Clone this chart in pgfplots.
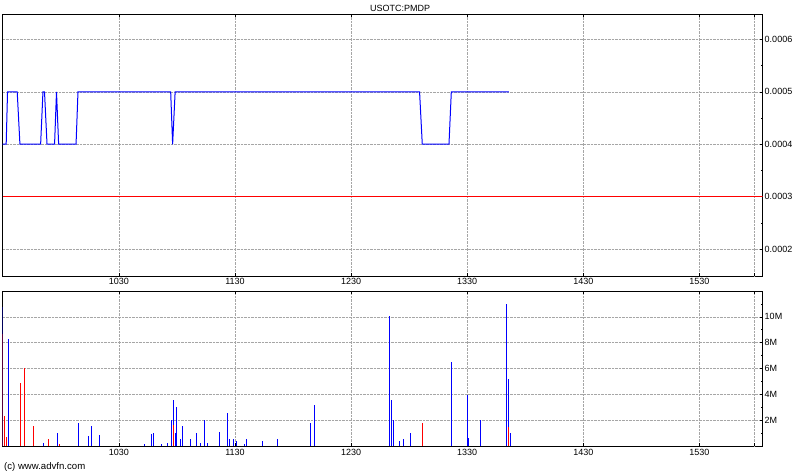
\documentclass[border=0pt]{standalone}
\usepackage{pgfplots}
\pgfplotsset{compat=1.18}
\usepackage{fontspec}
\setmainfont{Liberation Sans}
\begin{document}
\begin{tikzpicture}
\useasboundingbox (0pt,0pt) rectangle (800pt,-475pt);
\pgfplotsset{every axis/.append style={
  scale only axis, width=760pt, xmin=0, xmax=392.7,
  xtick={60,120,180,240,300,360},
  xticklabels={1030,1130,1230,1330,1430,1530},
  extra x ticks={388.3}, extra x tick labels={},
  extra x tick style={grid=major},
  grid=major,
  major grid style={densely dotted, black!35},
  axis line style={black, line width=0.9pt},
  tick label style={font=\fontsize{9}{10}\selectfont},
  yticklabel pos=right,
  ytick pos=right,
  yticklabel style={xshift=-1.5pt},
  xticklabel style={yshift=1pt},
  scaled y ticks=false,
  tick style={black, line width=0.6pt},
  major tick length=3pt, minor tick length=2pt,
}}
\begin{axis}[at={(2.7pt,-276pt)}, anchor=south west, height=261.7pt,
  ymin=0.0001485, ymax=0.000648,
  ytick={0.0002,0.0003,0.0004,0.0005,0.0006},
  yticklabels={0.0002,0.0003,0.0004,0.0005,0.0006},
  minor ytick={0.00025,0.00035,0.00045,0.00055},
]
\addplot[red, line width=1pt] coordinates {(0,0.0003)(392.7,0.0003)};
\addplot[blue, line width=1pt] coordinates {
(0,0.0004)(1.8,0.0004)(2.5,0.0005)(7.5,0.0005)(8.9,0.0004)(19.6,0.0004)(20.8,0.0005)(21.6,0.0005)(22.9,0.0004)(26.8,0.0004)(27.8,0.0005)(28.9,0.0004)(37.9,0.0004)(38.9,0.0005)(86.8,0.0005)(87.8,0.0004)(89.1,0.0005)(215.4,0.0005)(216.8,0.0004)(230.6,0.0004)(231.8,0.0005)(261.6,0.0005)};
\end{axis}
\begin{axis}[at={(2.7pt,-446pt)}, anchor=south west, height=155pt,
  ymin=0, ymax=12,
  ytick={2,4,6,8,10},
  yticklabels={2M,4M,6M,8M,10M},
  minor ytick={1,3,5,7,9,11},
  xticklabel style={yshift=-1pt},
]
\addplot[ycomb, blue, line width=0.95pt, mark=none] coordinates {
(0,10.8)(3.0,8.3)(21.1,0.23)(28.3,1.0)(39.2,1.8)(44.4,0.78)(45.9,1.55)(50.1,0.85)(73.3,0.13)(77.0,0.93)(78.0,1.0)(82.1,0.15)(85.2,0.23)(87.3,2.0)(88.3,3.6)(89.4,1.0)(89.9,3.0)(92.0,0.54)(93.0,1.55)(97.1,0.54)(100.2,1.0)(102.3,0.23)(104.4,2.0)(105.9,0.23)(112.1,1.08)(116.3,2.56)(117.3,0.54)(119.4,0.54)(120.9,0.39)(125.1,0.15)(126.1,0.54)(134.4,0.39)(142.1,0.54)(159.2,1.8)(161.3,3.2)(200.1,10.1)(201.1,3.6)(202.1,2.0)(205.2,0.39)(207.3,0.54)(210.9,1.0)(232.1,6.5)(239.9,3.95)(240.9,0.62)(247.1,2.0)(260.1,11.0)(261.1,5.2)(262.2,1.0)};
\addplot[ycomb, red, line width=0.95pt, mark=none] coordinates {
(0,8.7)(0.93,2.3)(1.97,0.67)(9.2,4.9)(11.3,6.05)(15.9,1.55)(23.4,0.54)(29.4,0.15)(88.3,1.6)(217.1,1.8)(261.1,1.47)};
\end{axis}
\node[font=\fontsize{9}{10}\selectfont] at (400pt,-8pt) {USOTC:PMDP};
\node[font=\fontsize{9.6}{11}\selectfont, anchor=west, inner sep=0pt] at (4pt,-467pt) {(c) www.advfn.com};
\end{tikzpicture}
\end{document}
